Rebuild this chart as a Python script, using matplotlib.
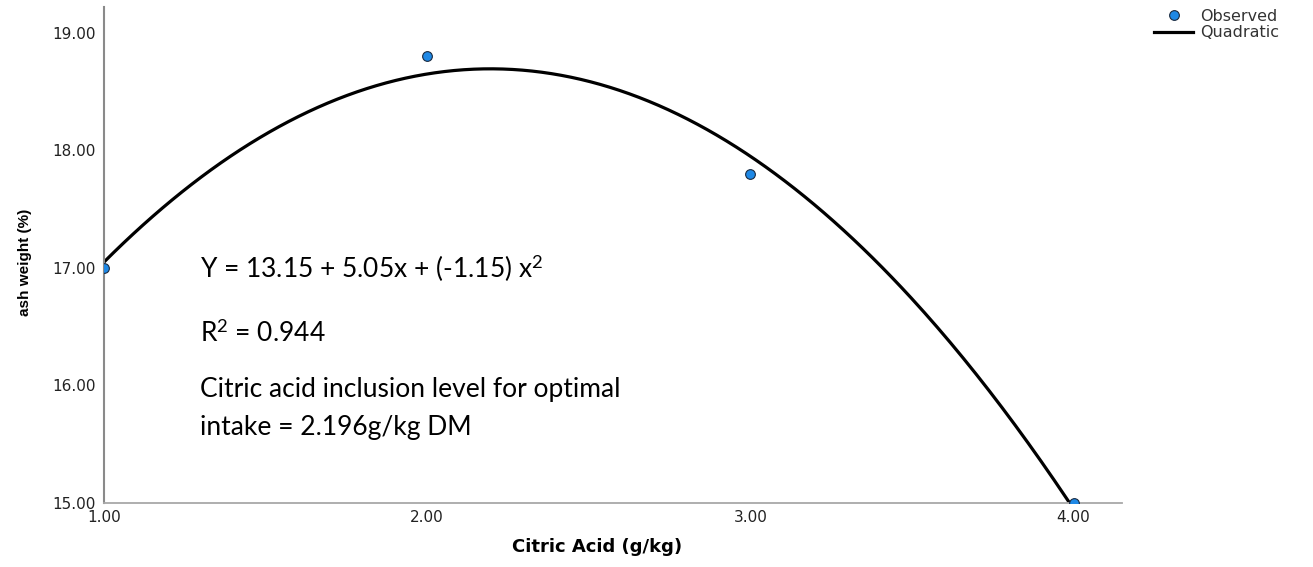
import numpy as np
import matplotlib
matplotlib.use("Agg")
import matplotlib.pyplot as plt
from matplotlib.lines import Line2D

plt.rcParams['mathtext.fontset'] = 'custom'
plt.rcParams['mathtext.rm'] = 'Lato'
plt.rcParams['mathtext.it'] = 'Lato:italic'
plt.rcParams['mathtext.bf'] = 'Lato:bold'

# Observed data
citric = [1.0, 2.0, 3.0, 4.0]
ash = [17.0, 18.8, 17.8, 15.0]

x_ticks = [1.0, 2.0, 3.0, 4.0]
y_ticks = [15.0, 16.0, 17.0, 18.0, 19.0]

# quadratic fit (gives 13.15 + 5.05x - 1.15x^2)
coef = np.polyfit(citric, ash, 2)
xs = np.linspace(min(citric), max(citric), 300)
ys = np.polyval(coef, xs)

fig = plt.figure(figsize=(13.13, 5.67), dpi=100)
ax = fig.add_axes([104/1313, 1 - 503/567, (1122 - 104)/1313, (503 - 7)/567])

ax.plot(xs, ys, color='black', lw=2.3, zorder=2)
ax.plot(citric, ash, 'o', ms=7, mfc='#1e88e5', mec='#1a2a40', mew=0.8, zorder=3)

ax.set_xlim(1.0, 4.15)
ax.set_ylim(15.0, 19.22)
ax.set_xticks(x_ticks)
ax.set_yticks(y_ticks)
ax.set_xticklabels([f"{v:.2f}" for v in x_ticks])
ax.set_yticklabels([f"{v:.2f}" for v in y_ticks])
ax.tick_params(length=0, labelsize=11, colors='#222222', labelfontfamily='DejaVu Sans')
ax.tick_params(axis='y', pad=6)
ax.tick_params(axis='x', pad=5)

for s in ['top', 'right']:
    ax.spines[s].set_visible(False)
ax.spines['left'].set_color('#8a8a8a')
ax.spines['left'].set_linewidth(1.5)
ax.spines['bottom'].set_color('#a8a8a8')
ax.spines['bottom'].set_linewidth(1.3)

fig.text(25/1313, 1 - 262/567, 'ash weight (%)', rotation=90, ha='center', va='center',
         fontsize=11, fontweight='bold', family=['Liberation Sans', 'DejaVu Sans'])
fig.text(597/1313, 1 - 547/567, 'Citric Acid (g/kg)', ha='center', va='center',
         fontsize=13, fontweight='bold', family=['DejaVu Sans'])

# equation text box
tkw = dict(fontsize=19, family=['Lato', 'DejaVu Sans'], color='black', va='center', ha='left')
fig.text(200/1313, 1 - 268/567, r'Y = 13.15 + 5.05x + (-1.15) x$^{2}$', **tkw)
fig.text(200/1313, 1 - 333/567, r'R$^{2}$ = 0.944', **tkw)
fig.text(200/1313, 1 - 389/567, 'Citric acid inclusion level for optimal', **tkw)
fig.text(200/1313, 1 - 428/567, 'intake = 2.196g/kg DM', **tkw)

handles = [Line2D([], [], ls='none', marker='o', ms=7, mfc='#1e88e5', mec='#1a2a40', mew=0.8),
           Line2D([], [], color='black', lw=2.3)]
fig.legend(handles, ['Observed', 'Quadratic'], loc='upper left',
           bbox_to_anchor=(1140/1313, 1.01), frameon=False,
           handlelength=2.4, handletextpad=0.45, labelspacing=0.1,
           prop={'family': 'DejaVu Sans', 'size': 11.5}, labelcolor='#333333')

fig.savefig('out.png', dpi=100)
